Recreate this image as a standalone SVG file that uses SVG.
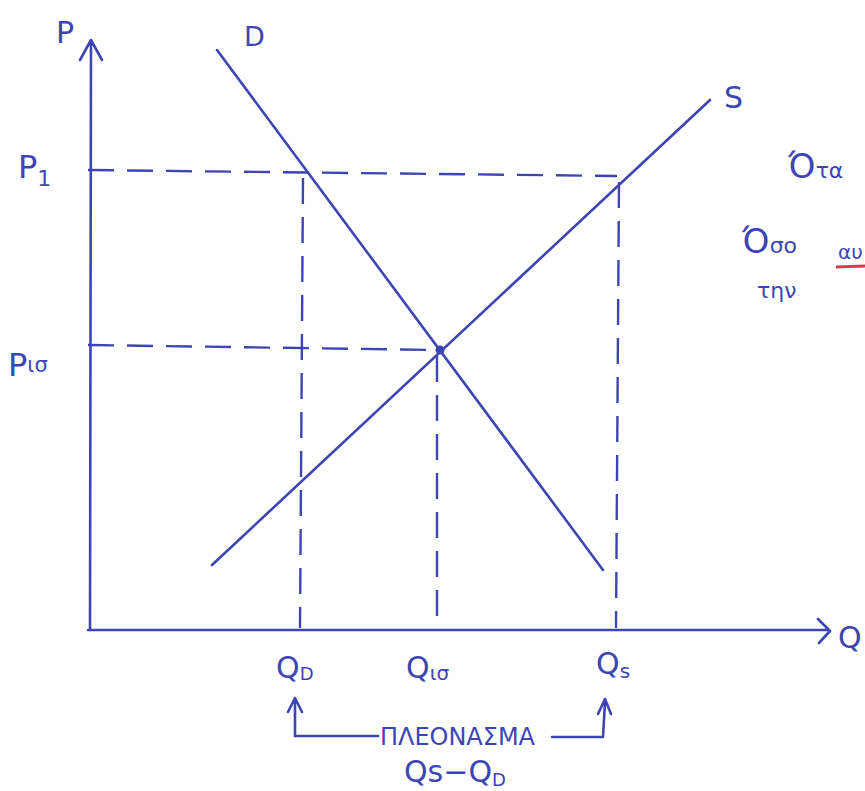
<svg xmlns="http://www.w3.org/2000/svg" width="865" height="791" viewBox="0 0 865 791">
<style>
.ink{stroke:#3d45b3;stroke-width:2.6;fill:none;stroke-linecap:round;stroke-linejoin:round}
.dash{stroke:#3d45b3;stroke-width:2.4;fill:none;stroke-dasharray:26 13}
.t{fill:#3d45b3;font-family:"DejaVu Sans","Liberation Sans",sans-serif}
</style>
<rect width="865" height="791" fill="#ffffff"/>
<g id="axes">
<path class="ink" d="M90,630 L91,42 M80,60 L91,40 L102,60"/>
<path class="ink" d="M88,630 L828,630 M818,619 L830,631 L819,643"/>
<text class="t" x="56" y="43" font-size="30">P</text>
<text class="t" x="838" y="648" font-size="30">Q</text>
</g>
<g id="demand">
<line class="ink" x1="217" y1="50" x2="603" y2="570"/>
<text class="t" x="244" y="46" font-size="27">D</text>
</g>
<g id="supply">
<line class="ink" x1="212" y1="565" x2="710" y2="100"/>
<text class="t" x="724" y="108" font-size="30">S</text>
</g>
<g id="equilibrium">
<circle cx="440" cy="350" r="4.5" fill="#3d45b3"/>
</g>
<g id="guides">
<line class="dash" x1="88" y1="170" x2="617" y2="176"/>
<line class="dash" x1="88" y1="345" x2="438" y2="350"/>
<line class="dash" x1="303" y1="178" x2="300" y2="628"/>
<line class="dash" x1="437" y1="356" x2="437" y2="628"/>
<line class="dash" x1="619" y1="182" x2="616" y2="628"/>
</g>
<g id="labels">
<text class="t" x="18" y="178" font-size="32">P<tspan font-size="22" dy="8">1</tspan></text>
<text class="t" x="8" y="376" font-size="32">P<tspan font-size="21" dy="-4">ισ</tspan></text>
<text class="t" x="276" y="678" font-size="30">Q<tspan font-size="18" dy="2">D</tspan></text>
<text class="t" x="406" y="678" font-size="30">Q<tspan font-size="20" dy="2">ισ</tspan></text>
<text class="t" x="596" y="674" font-size="30">Q<tspan font-size="20" dy="4">s</tspan></text>
</g>
<g id="surplus">
<path class="ink" d="M295,736 L295,700 M288,712 L295,698 L302,712"/>
<path class="ink" d="M295,736 L378,736"/>
<path class="ink" d="M552,737 L603,737 L605,702 M598,714 L605,699 L611,714"/>
<text class="t" x="380" y="745" font-size="24" textLength="155" lengthAdjust="spacingAndGlyphs">ΠΛΕΟΝΑΣΜΑ</text>
<text class="t" x="404" y="782" font-size="30">Qs−Q<tspan font-size="18" dy="4">D</tspan></text>
</g>
<g id="notes">
<text class="t" x="788" y="178" font-size="34">Ό<tspan font-size="22">τα</tspan></text>
<text class="t" x="742" y="253" font-size="34">Ό<tspan font-size="22">σο</tspan></text>
<text class="t" x="838" y="259" font-size="20">αυ</text>
<line x1="836" y1="267" x2="865" y2="266" stroke="#d63a55" stroke-width="3"/>
<text class="t" x="757" y="298" font-size="22">την</text>
</g>
</svg>
